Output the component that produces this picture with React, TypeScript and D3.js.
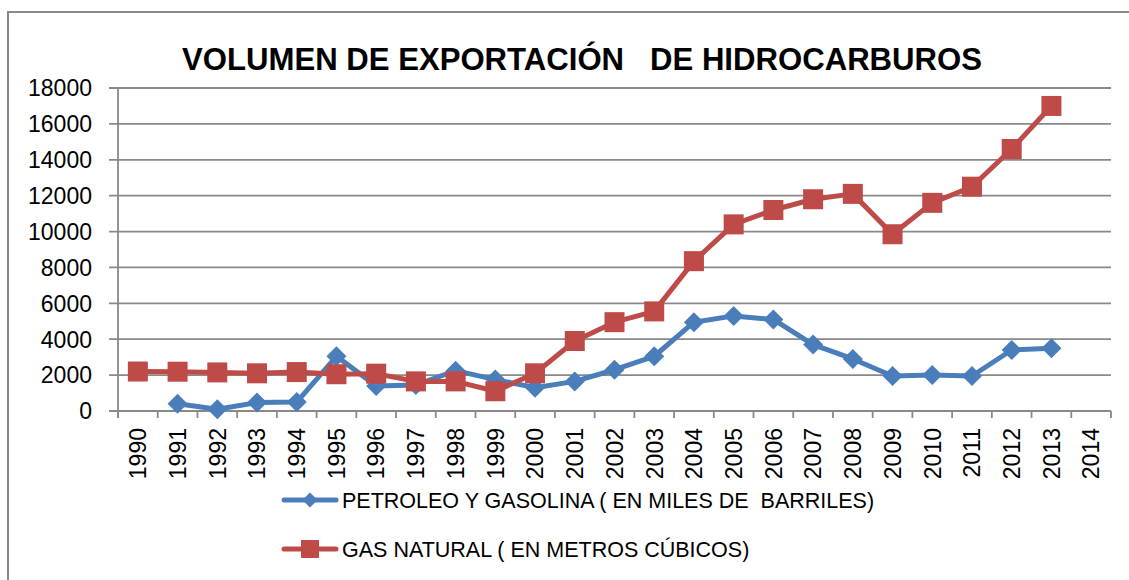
import React from 'react';
import * as d3 from 'd3';

const years = ['1990', '1991', '1992', '1993', '1994', '1995', '1996', '1997', '1998', '1999', '2000', '2001', '2002', '2003', '2004', '2005', '2006', '2007', '2008', '2009', '2010', '2011', '2012', '2013', '2014'];
const petroleo: (number | null)[] = [null, 400, 100, 470, 500, 3050, 1400, 1450, 2250, 1750, 1300, 1650, 2300, 3050, 4950, 5300, 5100, 3700, 2900, 1950, 2000, 1950, 3400, 3500, null];
const gas: (number | null)[] = [2200, 2190, 2150, 2100, 2170, 2050, 2080, 1650, 1650, 1100, 2100, 3900, 4950, 5550, 8350, 10400, 11200, 11800, 12100, 9850, 11600, 12500, 14600, 17000, null];
const yTicks = [0, 2000, 4000, 6000, 8000, 10000, 12000, 14000, 16000, 18000];
const title = 'VOLUMEN DE EXPORTACIÓN\u00a0\u00a0\u00a0DE HIDROCARBUROS';
const legendPetroleo = 'PETROLEO Y GASOLINA ( EN MILES DE \u00a0BARRILES)';
const legendGas = 'GAS NATURAL ( EN METROS CÚBICOS)';

const BLUE = '#4A7EBB';
const RED = '#BE4B48';
const GRID = '#898989';
const FONT = '"Liberation Sans", Arial, sans-serif';

export default function App() {
  const W = 1129, H = 580;
  const left = 118, right = 1111, top = 88, bottom = 411;
  const x = d3.scaleBand<string>().domain(years).range([left, right]).padding(0);
  const y = d3.scaleLinear().domain([0, 18000]).range([bottom, top]);
  const cx = (i: number) => (x(years[i]) as number) + x.bandwidth() / 2;

  const line = d3
    .line<number | null>()
    .defined((d) => d != null)
    .x((_, i) => cx(i))
    .y((d) => y(d as number));

  const boundaries = years.map((yr) => x(yr) as number).concat([right]);

  const diamond = (px: number, py: number, r: number) =>
    `M${px},${py - r}L${px + r},${py}L${px},${py + r}L${px - r},${py}Z`;

  return (
    <svg width={W} height={H} style={{ position: 'absolute', left: 0, top: 0, background: '#fff' }}>
      <rect x={8} y={12} width={W + 20} height={H + 20} fill="#fff" stroke={GRID} strokeWidth={2} />
      <text x={582} y={70} textAnchor="middle" fontFamily={FONT} fontWeight="bold" fontSize={31} textLength={800} lengthAdjust="spacingAndGlyphs" fill="#000">
        {title}
      </text>

      {yTicks.map((t) => (
        <g key={t}>
          <line x1={left - 9} x2={right} y1={y(t)} y2={y(t)} stroke={GRID} strokeWidth={1.8} />
          <text x={92} y={y(t)} dy="0.36em" textAnchor="end" fontFamily={FONT} fontSize={23} fill="#000">
            {t}
          </text>
        </g>
      ))}
      <line x1={left} x2={left} y1={top} y2={bottom + 7} stroke={GRID} strokeWidth={1.8} />
      <line x1={left} x2={right} y1={bottom} y2={bottom} stroke={GRID} strokeWidth={1.8} />
      {boundaries.map((b, i) => (
        <line key={i} x1={b} x2={b} y1={bottom} y2={bottom + 7} stroke={GRID} strokeWidth={1.8} />
      ))}
      {years.map((yr, i) => (
        <text key={yr} transform={`translate(${cx(i)},428) rotate(-90)`} textAnchor="end" dy="0.36em" fontFamily={FONT} fontSize={23} fill="#000">
          {yr}
        </text>
      ))}

      <path d={line(petroleo) || ''} fill="none" stroke={BLUE} strokeWidth={5} strokeLinejoin="round" />
      {petroleo.map((v, i) =>
        v == null ? null : <path key={i} d={diamond(cx(i), y(v), 10)} fill={BLUE} />
      )}
      <path d={line(gas) || ''} fill="none" stroke={RED} strokeWidth={5} strokeLinejoin="round" />
      {gas.map((v, i) =>
        v == null ? null : <rect key={i} x={cx(i) - 10} y={y(v) - 10} width={20} height={20} fill={RED} />
      )}

      <line x1={284} x2={336} y1={500} y2={500} stroke={BLUE} strokeWidth={5} strokeLinecap="round" />
      <path d={diamond(310, 500, 7.5)} fill={BLUE} />
      <text x={342} y={500} dy="0.36em" fontFamily={FONT} fontSize={21.5} fill="#000">
        {legendPetroleo}
      </text>
      <line x1={284} x2={336} y1={549} y2={549} stroke={RED} strokeWidth={5} strokeLinecap="round" />
      <rect x={301} y={540} width={18} height={18} fill={RED} />
      <text x={342} y={549} dy="0.36em" fontFamily={FONT} fontSize={21.5} fill="#000">
        {legendGas}
      </text>
    </svg>
  );
}
